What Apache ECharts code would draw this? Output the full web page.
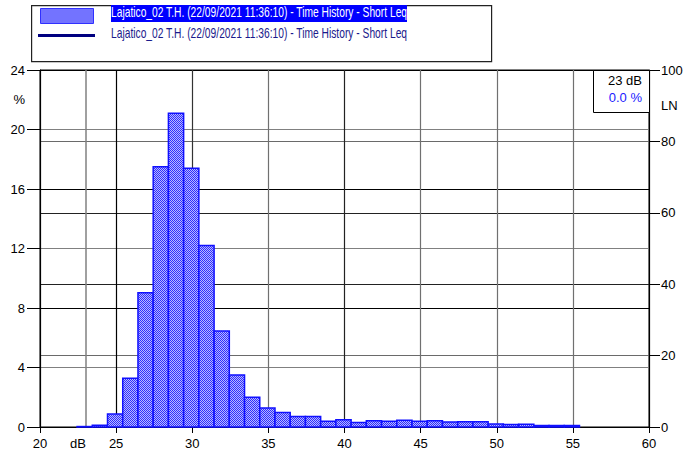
<!DOCTYPE html>
<html>
<head>
<meta charset="utf-8">
<script src="https://cdn.jsdelivr.net/npm/echarts@6/dist/echarts.min.js"></script>
<style>
html,body{margin:0;padding:0;background:#fff;}
#chart{width:692px;height:457px;}
</style>
</head>
<body>
<div id="chart"></div>
<script>
// ---- data ----
const seriesName = 'Lajatico_02 T.H. (22/09/2021 11:36:10) - Time History - Short Leq';
const binCenters = [23,24,25,26,27,28,29,30,31,32,33,34,35,36,37,38,39,40,41,42,43,44,45,46,47,48,49,50,51,52,53,54,55];
const percentValues = [0.03,0.12,0.87,3.27,9.03,17.5,21.1,17.4,12.2,6.45,3.5,2.0,1.28,0.98,0.7,0.7,0.38,0.49,0.31,0.42,0.38,0.46,0.38,0.42,0.34,0.35,0.35,0.2,0.16,0.18,0.1,0.1,0.1];
const xTicks = [20,25,30,35,40,45,50,55,60];
const leftTicks = [0,4,8,12,16,20,24];
const rightTicks = [0,20,40,60,80,100];
const cursorDb = 23;
const cursorPercent = '0.0 %';
const xUnitLabel = 'dB';
const leftUnitLabel = '%';
const rightUnitLabel = 'LN';

const FONT = '"Liberation Sans", Arial, sans-serif';

function makePattern(){
  const c = document.createElement('canvas');
  c.width = 2; c.height = 2;
  const ctx = c.getContext('2d');
  ctx.fillStyle = '#b8b8ff'; ctx.fillRect(0,0,2,2);
  ctx.fillStyle = '#2e2eff'; ctx.fillRect(0,0,1,1); ctx.fillRect(1,1,1,1);
  return {image: c, repeat: 'repeat'};
}
const pattern = makePattern();

const histData = binCenters.map((b,i)=>[b, percentValues[i]]);

const chart = echarts.init(document.getElementById('chart'), null, {renderer:'svg'});

const option = {
  animation:false,
  textStyle:{fontFamily:FONT},
  grid:{left:40, right:43, top:70, bottom:30, show:true, borderColor:'#000', borderWidth:1, backgroundColor:'transparent'},
  xAxis:[{
    type:'value', min:xTicks[0], max:xTicks[xTicks.length-1], interval:xTicks[1]-xTicks[0],
    axisLine:{show:true, lineStyle:{color:'#000', width:1}},
    axisTick:{show:true, length:6, lineStyle:{color:'#000'}},
    axisLabel:{color:'#000', fontSize:13, margin:10, fontFamily:FONT},
    splitLine:{show:true, lineStyle:{color:['#000','#000','#333','#707070','#222','#707070','#707070','#707070','#000'], width:1.2}}
  },{
    type:'value', min:xTicks[0], max:xTicks[xTicks.length-1], interval:(xTicks[1]-xTicks[0])/2,
    position:'bottom',
    axisLine:{show:false}, axisTick:{show:false}, splitLine:{show:false},
    axisLabel:{color:'#000', fontSize:13, margin:10, fontFamily:FONT,
      formatter:v=> (v===cursorDb-0.5 ? xUnitLabel : '')}
  }],
  yAxis:[{
    type:'value', min:leftTicks[0], max:leftTicks[leftTicks.length-1], interval:leftTicks[1]-leftTicks[0],
    position:'left',
    axisLine:{show:true, lineStyle:{color:'#000'}},
    axisTick:{show:true, length:13, lineStyle:{color:'#000'}},
    axisLabel:{color:'#000', fontSize:13, margin:15, fontFamily:FONT},
    splitLine:{show:true, lineStyle:{color:['#000','#808080'], width:1.2}}
  },{
    type:'value', min:rightTicks[0], max:rightTicks[rightTicks.length-1], interval:rightTicks[1]-rightTicks[0],
    position:'right',
    axisLine:{show:true, lineStyle:{color:'#000'}},
    axisTick:{show:true, length:11, lineStyle:{color:'#000'}},
    axisLabel:{color:'#000', fontSize:13, margin:12, fontFamily:FONT},
    splitLine:{show:true, lineStyle:{color:['#000','#6a6a6a','#222','#222','#6a6a6a','#000'], width:1.2}}
  },{
    type:'value', min:leftTicks[0], max:leftTicks[leftTicks.length-1], interval:2,
    position:'left',
    axisLine:{show:false}, axisTick:{show:false}, splitLine:{show:false},
    axisLabel:{color:'#000', fontSize:13, margin:15, fontFamily:FONT, formatter:v=>(v===22?leftUnitLabel:'')}
  },{
    type:'value', min:rightTicks[0], max:rightTicks[rightTicks.length-1], interval:10,
    position:'right',
    axisLine:{show:false}, axisTick:{show:false}, splitLine:{show:false},
    axisLabel:{color:'#000', fontSize:13, margin:12, fontFamily:FONT, formatter:v=>(v===90?rightUnitLabel:'')}
  }],
  series:[{
    name:seriesName,
    type:'custom',
    xAxisIndex:0, yAxisIndex:0,
    data:histData,
    z:5,
    renderItem:function(params, api){
      const x = api.value(0), y = api.value(1);
      const p0 = api.coord([x-0.5, y]);
      const p1 = api.coord([x+0.5, 0]);
      return {type:'rect',
        shape:{x:p0[0]-1, y:p0[1], width:p1[0]-p0[0], height:p1[1]-p0[1]},
        style:{fill:pattern, stroke:'#1010ff', lineWidth:1.5}};
    },
    markLine:{
      silent:true, symbol:'none', label:{show:false},
      lineStyle:{color:'#808080', width:1.5, type:'solid'},
      data:[{xAxis:cursorDb}]
    }
  }],
  graphic:[
    {type:'rect', left:31, top:5, shape:{width:460, height:56}, style:{fill:'#fff', stroke:'#222', lineWidth:1.2}, z:10},
    {type:'rect', left:40, top:8, shape:{width:53, height:15}, style:{fill:pattern, stroke:'#3030ff', lineWidth:1}, z:11},
    {type:'rect', left:111, top:5, shape:{width:296, height:17}, style:{fill:'#0000ff'}, z:11},
    {type:'text', x:111, y:5, scaleX:0.733, style:{text:seriesName, fill:'#fff', font:'14px '+FONT}, z:12},
    {type:'line', shape:{x1:38, y1:35.5, x2:95, y2:35.5}, style:{stroke:'#000080', lineWidth:3}, z:11},
    {type:'text', x:111, y:26, scaleX:0.733, style:{text:seriesName, fill:'#1a1a8c', font:'14px '+FONT}, z:12},
    {type:'rect', left:593, top:70, shape:{width:56, height:42}, style:{fill:'#fff', stroke:'#000', lineWidth:1}, z:10},
    {type:'text', right:50, top:74, style:{text:cursorDb+' dB', fill:'#000', font:'13px '+FONT, align:'right'}, z:12},
    {type:'text', right:50, top:91, style:{text:cursorPercent, fill:'#2020ff', font:'13px '+FONT, align:'right'}, z:12}
  ]
};
chart.setOption(option);
</script>
</body>
</html>
